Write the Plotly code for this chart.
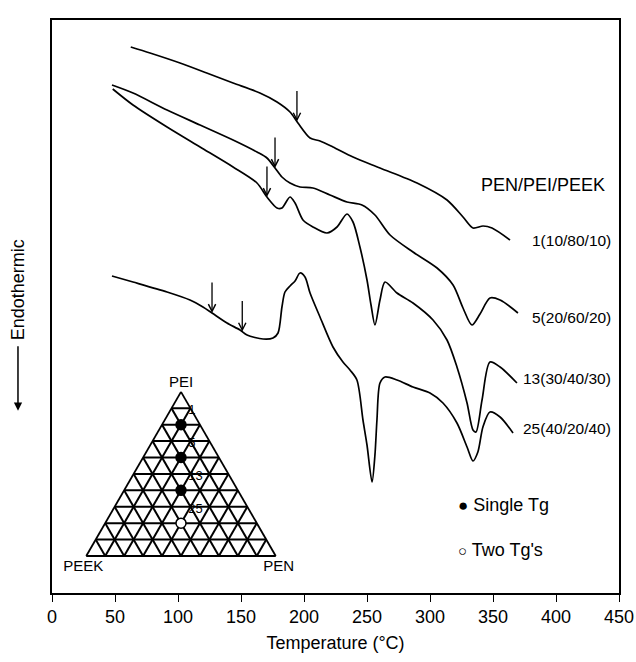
import numpy as np
import plotly.graph_objects as go

# ---------------- DSC curves (temperature in °C, heat-flow signal in arbitrary units) -------------
t_1 = [62.5, 77.8, 101.6, 122.8, 143.7, 165.0, 178.6, 188.9, 195.2, 204.8, 212.7, 223.0, 238.9,
       260.3, 289.7, 313.5, 326.2, 334.1, 342.1, 349.2, 363.5]
s_1 = [546, 540, 530, 520, 510, 500, 491, 481, 470, 455, 452, 446, 436,
       425, 410, 393, 376, 365, 367, 365, 353]

t_5 = [47.6, 64.3, 91.3, 117.5, 143.7, 162.7, 170.6, 177.0, 182.5, 188.9, 196.8, 207.1, 220.6,
       234.1, 246.0, 256.3, 268.3, 286.5, 305.6, 318.3, 326.2, 333.3, 339.7, 347.6, 355.6, 369.8]
s_5 = [508, 500, 483, 468, 453, 441, 435, 425, 416, 410, 406, 405, 398,
       391, 388, 378, 358, 341, 325, 308, 285, 268, 279, 295, 293, 280]

t_13 = [48.2, 64.3, 91.3, 117.5, 143.7, 162.7, 170.6, 178.6, 182.5, 188.9, 192.9, 199.2, 207.1,
        218.3, 226.2, 234.1, 238.9, 244.4, 250.0, 253.2, 256.3, 260.3, 264.3, 273.8, 286.5, 302.4,
        313.5, 321.4, 329.4, 334.1, 336.5, 341.3, 347.6, 355.6, 369.0]
s_13 = [504, 488, 466, 446, 426, 410, 396, 385, 385, 396, 390, 373, 366,
        360, 366, 379, 371, 346, 313, 288, 268, 293, 311, 300, 290, 273,
        253, 226, 190, 163, 161, 193, 231, 226, 210]

t_25 = [47.6, 64.3, 91.3, 109.5, 119.8, 127.0, 138.9, 149.2, 154.8, 167.5, 175.4, 179.4, 182.5,
        184.9, 188.9, 192.9, 196.8, 200.8, 204.8, 212.7, 223.0, 230.9, 236.5, 242.0, 246.8, 250.0,
        254.0, 256.3, 257.9, 260.3, 264.3, 273.8, 286.5, 300.0, 310.3, 321.4, 329.4, 334.1, 338.0,
        342.0, 347.6, 355.6, 365.9]
s_25 = [317, 311, 301, 293, 286, 280, 270, 263, 258, 254, 255, 260, 286,
        301, 307, 312, 320, 316, 300, 276, 246, 231, 223, 213, 173, 148,
        111, 138, 173, 210, 216, 213, 206, 200, 190, 170, 146, 132, 141,
        166, 181, 176, 160]

curve_labels = ["1(10/80/10)", "5(20/60/20)", "13(30/40/30)", "25(40/20/40)"]
curve_t = [t_1, t_5, t_13, t_25]
curve_s = [s_1, s_5, s_13, s_25]

# glass transition temperatures marked with arrows
tg_values = [[194.4], [177.0], [170.6], [127.0, 151.0]]

# ---------------- ternary inset: blend compositions (PEN/PEI/PEEK, wt %) -----------------------
sample_ids = ["1", "5", "13", "25"]
pen = [10, 20, 30, 40]
pei = [80, 60, 40, 20]
peek = [10, 20, 30, 40]
single_tg = [True, True, True, False]

x_ticks = [0, 50, 100, 150, 200, 250, 300, 350, 400, 450]

FONT = "Liberation Sans, Arial, Helvetica, sans-serif"

fig = go.Figure()

for t, s in zip(curve_t, curve_s):
    fig.add_trace(go.Scatter(x=t, y=s, mode="lines",
                             line=dict(color="black", width=1.7, shape="spline", smoothing=0.8),
                             showlegend=False, hoverinfo="skip"))

# Tg arrows
for t, s, tgs in zip(curve_t, curve_s, tg_values):
    for tg in tgs:
        y_head = float(np.interp(tg, t, s))
        fig.add_annotation(x=tg, y=y_head, xref="x", yref="y", text="",
                           showarrow=True, arrowhead=5, arrowsize=1.1, arrowwidth=1.3,
                           arrowcolor="black", ax=0, ay=-32)

# Curve labels at the right end of each curve
label_offsets = [0, -4, 5, 5]
for lab, s, off in zip(curve_labels, curve_s, label_offsets):
    fig.add_annotation(x=0.99, y=s[-1] + off, xref="paper", yref="y", text=lab,
                       showarrow=False, xanchor="right", yanchor="middle",
                       font=dict(family=FONT, size=15.5, color="black"))

fig.add_annotation(x=0.978, y=0.712, xref="paper", yref="paper", text="PEN/PEI/PEEK",
                   showarrow=False, xanchor="right", yanchor="middle",
                   font=dict(family=FONT, size=18, color="black"))

# Ternary inset
filled = [i for i, f in enumerate(single_tg) if f]
opened = [i for i, f in enumerate(single_tg) if not f]
for idx, fill in ((filled, "black"), (opened, "white")):
    fig.add_trace(go.Scatterternary(
        a=[pei[i] for i in idx], b=[peek[i] for i in idx], c=[pen[i] for i in idx],
        text=[sample_ids[i] for i in idx], mode="markers+text", textposition="top right",
        textfont=dict(family=FONT, size=13, color="#000000"),
        marker=dict(symbol="circle", size=10, color=fill, line=dict(color="black", width=1.5)),
        cliponaxis=False, showlegend=False, hoverinfo="skip"))

tern_axis = dict(min=0, dtick=10, showticklabels=False, ticks="", showgrid=True,
                 gridcolor="black", gridwidth=1.5, linecolor="black", linewidth=1.8)
fig.update_layout(ternary=dict(
    sum=100,
    domain=dict(x=[0.06, 0.395], y=[0.0646, 0.351]),
    bgcolor="white",
    aaxis=dict(tern_axis, title=dict(text="PEI", font=dict(family=FONT, size=15, color="black"))),
    baxis=dict(tern_axis, title=dict(text="PEEK", font=dict(family=FONT, size=15, color="black"))),
    caxis=dict(tern_axis, title=dict(text="PEN", font=dict(family=FONT, size=15, color="black"))),
))

# Legend for the inset symbols
fig.add_annotation(x=0.712, y=0.1536, xref="paper", yref="paper",
                   text="<span style='font-size:17px'>●</span> Single Tg", showarrow=False,
                   xanchor="left", yanchor="middle", font=dict(family=FONT, size=18, color="black"))
fig.add_annotation(x=0.712, y=0.075, xref="paper", yref="paper",
                   text="<span style='font-size:15px'>○</span> Two Tg's", showarrow=False,
                   xanchor="left", yanchor="middle", font=dict(family=FONT, size=18, color="black"))

# Endothermic label with arrow
fig.add_annotation(x=-0.06, y=0.53, xref="paper", yref="paper", text="Endothermic",
                   textangle=-90, showarrow=False, xanchor="center", yanchor="middle",
                   font=dict(family=FONT, size=18, color="black"))
fig.add_annotation(x=-0.06, y=0.318, xref="paper", yref="paper", text="",
                   showarrow=True, arrowhead=2, arrowsize=1.1, arrowwidth=1.5,
                   arrowcolor="black", ax=0, ay=-66)

fig.update_xaxes(range=[0, 450], tickvals=x_ticks, ticks="outside", ticklen=7, tickwidth=1.3,
                 tickcolor="black", showline=True, linecolor="black", linewidth=1.5, mirror=True,
                 showgrid=False, zeroline=False, automargin=False,
                 tickfont=dict(family=FONT, size=18, color="black"),
                 title=dict(text="Temperature (°C)", standoff=10,
                            font=dict(family=FONT, size=18, color="black")))
fig.update_yaxes(range=[0, 573], showticklabels=False, ticks="", showline=True, automargin=False,
                 linecolor="black", linewidth=1.5, mirror=True, showgrid=False, zeroline=False)

fig.update_layout(width=636, height=662, margin=dict(l=52, r=17, t=20, b=69, autoexpand=False),
                  paper_bgcolor="white", plot_bgcolor="white", showlegend=False)

fig.write_html("out.html")
